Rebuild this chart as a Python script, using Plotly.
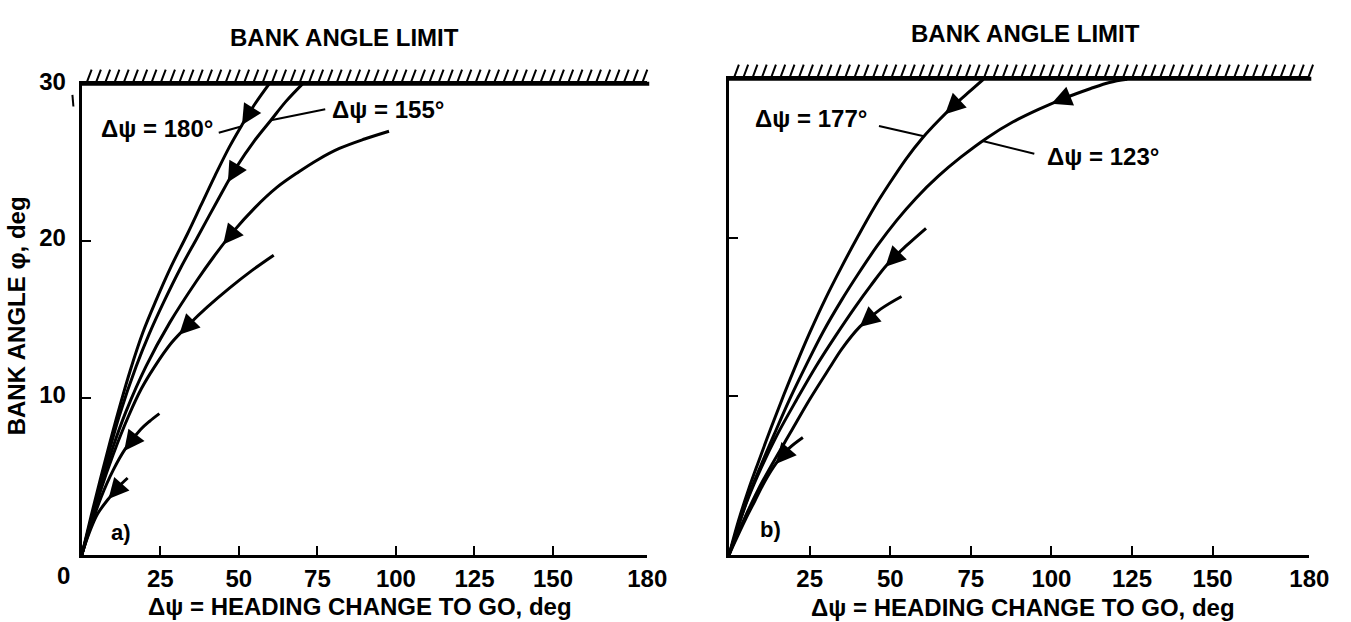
import numpy as np
import plotly.graph_objects as go

W, H = 1351, 622
FONT = "Liberation Sans, Arial, Helvetica, sans-serif"

# ---------------- axis frames (pixels) ----------------
L_X0, L_X1, L_YTOP, L_YBOT = 83, 657, 69, 553
R_X0, R_X1, R_YTOP, R_YBOT = 740, 1329, 64, 553
X_MAX, PHI_MAX = 180, 30

# ---------------- tick data ----------------
x_ticks = [25, 50, 75, 100, 125, 150, 180]
x_tick_text = ["25", "50", "75", "100", "125", "150", "180"]
y_ticks_left = [10, 20, 30]
y_tick_text_left = ["10", "20", "30"]
y_ticks_right = [10, 20]

# ---------------- panel a) curves: heading change to go (deg), bank angle (deg) ----------------
a180_x = [0, 3, 6, 9, 12, 15.5, 19.5, 23.6, 28.5, 33.5, 38, 42.5, 47, 51, 55, 59.6]
a180_phi = [0, 2.5, 4.9, 7.2, 9.4, 11.8, 14.2, 16.2, 18.4, 20.4, 22.3, 24.2, 26.0, 27.4, 28.7, 30]

a155_x = [0, 3, 6, 9, 12, 17.3, 21.5, 26.3, 31.5, 36.7, 43, 49.2, 55, 60.2, 65, 70.2]
a155_phi = [0, 2.3, 4.6, 6.8, 8.9, 12.0, 14.1, 16.2, 18.3, 20.2, 22.5, 24.7, 26.4, 27.7, 28.9, 30]

a98_x = [0, 3, 6, 10, 14, 20.4, 28, 36.7, 42, 48.2, 55, 62, 69, 75.3, 82, 90, 97.8]
a98_phi = [0, 2.2, 4.3, 6.9, 9.1, 12.0, 14.8, 17.5, 19.0, 20.6, 22.1, 23.4, 24.4, 25.2, 25.9, 26.5, 27.0]

a61_x = [0, 3, 6, 10, 15, 19, 23.2, 28.5, 34.2, 40, 47, 54, 61.1]
a61_phi = [0, 2.1, 4.1, 6.4, 8.9, 10.6, 12.0, 13.5, 14.7, 15.8, 17.0, 18.1, 19.1]

a25_x = [0, 3, 6, 10, 14, 18.8, 21.5, 24.7]
a25_phi = [0, 1.9, 3.6, 5.4, 6.8, 8.0, 8.5, 9.0]

a15_x = [0, 2, 5, 9, 11.5, 14.6]
a15_phi = [0, 1.2, 2.6, 3.7, 4.3, 4.9]

a_curves = [(a180_x, a180_phi), (a155_x, a155_phi), (a98_x, a98_phi),
            (a61_x, a61_phi), (a25_x, a25_phi), (a15_x, a15_phi)]
a_arrow_tips = [51, 46.5, 45, 31, 13.5, 8.5]

# ---------------- panel b) curves ----------------
b177_x = [0, 3, 6, 9, 13, 17, 21, 25, 30, 35, 40, 45, 50, 55, 60, 65, 70, 75, 78.9]
b177_phi = [0, 2.2, 4.1, 5.8, 8.0, 10.1, 12.1, 14.0, 16.2, 18.2, 20.1, 21.9, 23.5, 25.0, 26.3, 27.4, 28.4, 29.3, 30.0]

b123_x = [0, 3, 6, 10, 14, 19, 24, 29, 35, 40, 46, 52, 58, 65, 72, 80, 88, 96, 104, 112, 118, 123.5]
b123_phi = [0, 1.9, 3.7, 5.7, 7.6, 9.9, 12.0, 14.0, 16.1, 17.7, 19.5, 21.1, 22.5, 23.9, 25.1, 26.3, 27.3, 28.1, 28.8, 29.4, 29.8, 30.0]

b61_x = [0, 3, 6, 10, 15, 21, 27, 33, 39, 44, 49, 55, 61.1]
b61_phi = [0, 1.9, 3.6, 5.5, 7.6, 9.8, 11.9, 13.8, 15.6, 17.0, 18.3, 19.5, 20.6]

b53_x = [0, 2, 5, 9, 13.3, 19, 25, 31.2, 35, 40.6, 47, 53.5]
b53_phi = [0, 1.0, 2.4, 4.1, 5.7, 7.7, 9.8, 11.8, 13.0, 14.4, 15.5, 16.3]

b23_x = [0, 2, 5, 8, 11, 14.7, 18.5, 22.9]
b23_phi = [0, 0.9, 2.2, 3.4, 4.6, 5.8, 6.7, 7.4]

b_curves = [(b177_x, b177_phi), (b123_x, b123_phi), (b61_x, b61_phi),
            (b53_x, b53_phi), (b23_x, b23_phi)]
b_arrow_tips = [67, 100, 48.5, 40.5, 14.5]

# ---------------- curve labels ----------------
# (text, label x, label phi, anchor, leader start x, leader start phi, curve index, phi where leader meets curve)
a_labels = [("Δψ = 180°", 42.3, 27.15, "right", 43.6, 26.9, 0, 27.3),
            ("Δψ = 155°", 79.0, 28.4, "left", 77.5, 28.4, 1, 27.7)]
b_labels = [("Δψ = 177°", 43.4, 27.5, "right", 46.5, 27.05, 0, 26.4),
            ("Δψ = 123°", 98.1, 25.15, "left", 94.7, 25.3, 1, 26.1)]

TXT = 24


def px2x(px):
    return px / W


def px2y(py):
    return 1 - py / H


fig = go.Figure()

panels = [
    dict(curves=a_curves, tips=a_arrow_tips, labels=a_labels, xr="x", yr="y",
         x0=L_X0, x1=L_X1, ytop=L_YTOP, ybot=L_YBOT),
    dict(curves=b_curves, tips=b_arrow_tips, labels=b_labels, xr="x2", yr="y2",
         x0=R_X0, x1=R_X1, ytop=R_YTOP, ybot=R_YBOT),
]

annotations = []
shapes = []

for p in panels:
    kx = (p["x1"] - p["x0"]) / X_MAX
    ky = (p["ybot"] - p["ytop"]) / PHI_MAX
    for xs, ys in p["curves"]:
        fig.add_trace(go.Scatter(x=xs, y=ys, mode="lines", xaxis=p["xr"], yaxis=p["yr"],
                                 line=dict(color="black", width=3, shape="spline", smoothing=1.0),
                                 hoverinfo="skip", showlegend=False))
    # arrowheads
    for (xs, ys), xt in zip(p["curves"], p["tips"]):
        xs_a = np.asarray(xs, float)
        ys_a = np.asarray(ys, float)
        yt = float(np.interp(xt, xs_a, ys_a))
        xd = np.linspace(xt, xs_a.max(), 800)
        yd = np.interp(xd, xs_a, ys_a)
        s = np.hypot((xd - xt) * kx, (yd - yt) * ky)
        i = min(int(np.searchsorted(s, 22)), len(xd) - 1)
        annotations.append(dict(x=xt, y=yt, ax=float(xd[i]), ay=float(yd[i]),
                                xref=p["xr"], yref=p["yr"], axref=p["xr"], ayref=p["yr"],
                                text="", showarrow=True, arrowhead=2, arrowsize=1.35,
                                arrowwidth=3, arrowcolor="black", standoff=0, startstandoff=0))
    # labels + leaders
    for text, lx, ly, anc, sx, sy, ci, cphi in p["labels"]:
        xs, ys = p["curves"][ci]
        cx = float(np.interp(cphi, ys, xs))
        annotations.append(dict(x=lx, y=ly, xref=p["xr"], yref=p["yr"], text=text,
                                showarrow=False, xanchor=anc, yanchor="middle",
                                font=dict(size=TXT)))
        shapes.append(dict(type="line", xref=p["xr"], yref=p["yr"], x0=sx, y0=sy, x1=cx, y1=cphi,
                           line=dict(color="black", width=2)))
    # hatching above the bank angle limit
    path = ""
    xpx = p["x0"] + 5
    while xpx <= p["x1"] + 2:
        path += "M{:.5f},{:.5f}L{:.5f},{:.5f}".format(
            px2x(xpx), px2y(p["ytop"] - 1.5), px2x(xpx + 5), px2y(p["ytop"] - 15))
        xpx += 9.4
    shapes.append(dict(type="path", xref="paper", yref="paper", path=path,
                       line=dict(color="black", width=2)))
    # heavier bank-angle-limit line along the top edge
    shapes.append(dict(type="line", xref="paper", yref="paper",
                       x0=px2x(p["x0"] - 1), x1=px2x(p["x1"] + 2),
                       y0=px2y(p["ytop"] - 0.5), y1=px2y(p["ytop"] - 0.5),
                       line=dict(color="black", width=4)))

# small mark beneath the "30" label
shapes.append(dict(type="line", xref="paper", yref="paper",
                   x0=px2x(73.5), y0=px2y(80), x1=px2x(74.5), y1=px2y(92),
                   line=dict(color="black", width=2)))

# titles and labels in page position
annotations += [
    dict(x=px2x(350), y=px2y(21), xref="paper", yref="paper", text="BANK ANGLE LIMIT",
         showarrow=False, xanchor="center", yanchor="middle", font=dict(size=TXT)),
    dict(x=px2x(1041), y=px2y(17), xref="paper", yref="paper", text="BANK ANGLE LIMIT",
         showarrow=False, xanchor="center", yanchor="middle", font=dict(size=TXT)),
    dict(x=px2x(365), y=px2y(606), xref="paper", yref="paper",
         text="Δψ = HEADING CHANGE TO GO, deg",
         showarrow=False, xanchor="center", yanchor="middle", font=dict(size=TXT)),
    dict(x=px2x(1038), y=px2y(607), xref="paper", yref="paper",
         text="Δψ = HEADING CHANGE TO GO, deg",
         showarrow=False, xanchor="center", yanchor="middle", font=dict(size=TXT)),
    dict(x=px2x(17), y=px2y(307), xref="paper", yref="paper", text="BANK ANGLE φ, deg",
         showarrow=False, textangle=-90, xanchor="center", yanchor="middle", font=dict(size=TXT)),
    dict(x=px2x(64), y=px2y(574), xref="paper", yref="paper", text="0",
         showarrow=False, xanchor="center", yanchor="middle", font=dict(size=TXT)),
    dict(x=px2x(123), y=px2y(530), xref="paper", yref="paper", text="a)",
         showarrow=False, xanchor="center", yanchor="middle", font=dict(size=22)),
    dict(x=px2x(782), y=px2y(527), xref="paper", yref="paper", text="b)",
         showarrow=False, xanchor="center", yanchor="middle", font=dict(size=22)),
]

xaxis_common = dict(range=[0, X_MAX], tickvals=x_ticks, ticktext=x_tick_text,
                    ticks="inside", ticklen=9, tickwidth=2, tickcolor="black",
                    showline=True, linewidth=3, linecolor="black", mirror=True,
                    showgrid=False, zeroline=False, fixedrange=True,
                    tickfont=dict(size=TXT), ticklabelstandoff=0)
yaxis_common = dict(range=[0, PHI_MAX], ticks="inside", ticklen=9, tickwidth=2,
                    tickcolor="black", showline=True, linewidth=3, linecolor="black",
                    showgrid=False, zeroline=False, fixedrange=True, tickfont=dict(size=TXT))

fig.update_layout(
    width=W, height=H,
    margin=dict(l=0, r=0, t=0, b=0),
    paper_bgcolor="white", plot_bgcolor="white",
    font=dict(family=FONT, size=TXT, color="black", weight="bold"),
    showlegend=False,
    xaxis=dict(domain=[px2x(L_X0), px2x(L_X1)], anchor="y", **xaxis_common),
    yaxis=dict(domain=[px2y(L_YBOT), px2y(L_YTOP)], anchor="x",
               tickvals=y_ticks_left, ticktext=y_tick_text_left,
               ticklabelshift=-3, ticklabelstandoff=8, **yaxis_common),
    xaxis2=dict(domain=[px2x(R_X0), px2x(R_X1)], anchor="y2", **xaxis_common),
    yaxis2=dict(domain=[px2y(R_YBOT), px2y(R_YTOP)], anchor="x2",
                tickvals=y_ticks_right, showticklabels=False, **yaxis_common),
    annotations=annotations,
    shapes=shapes,
)

fig.write_html("out.html")
